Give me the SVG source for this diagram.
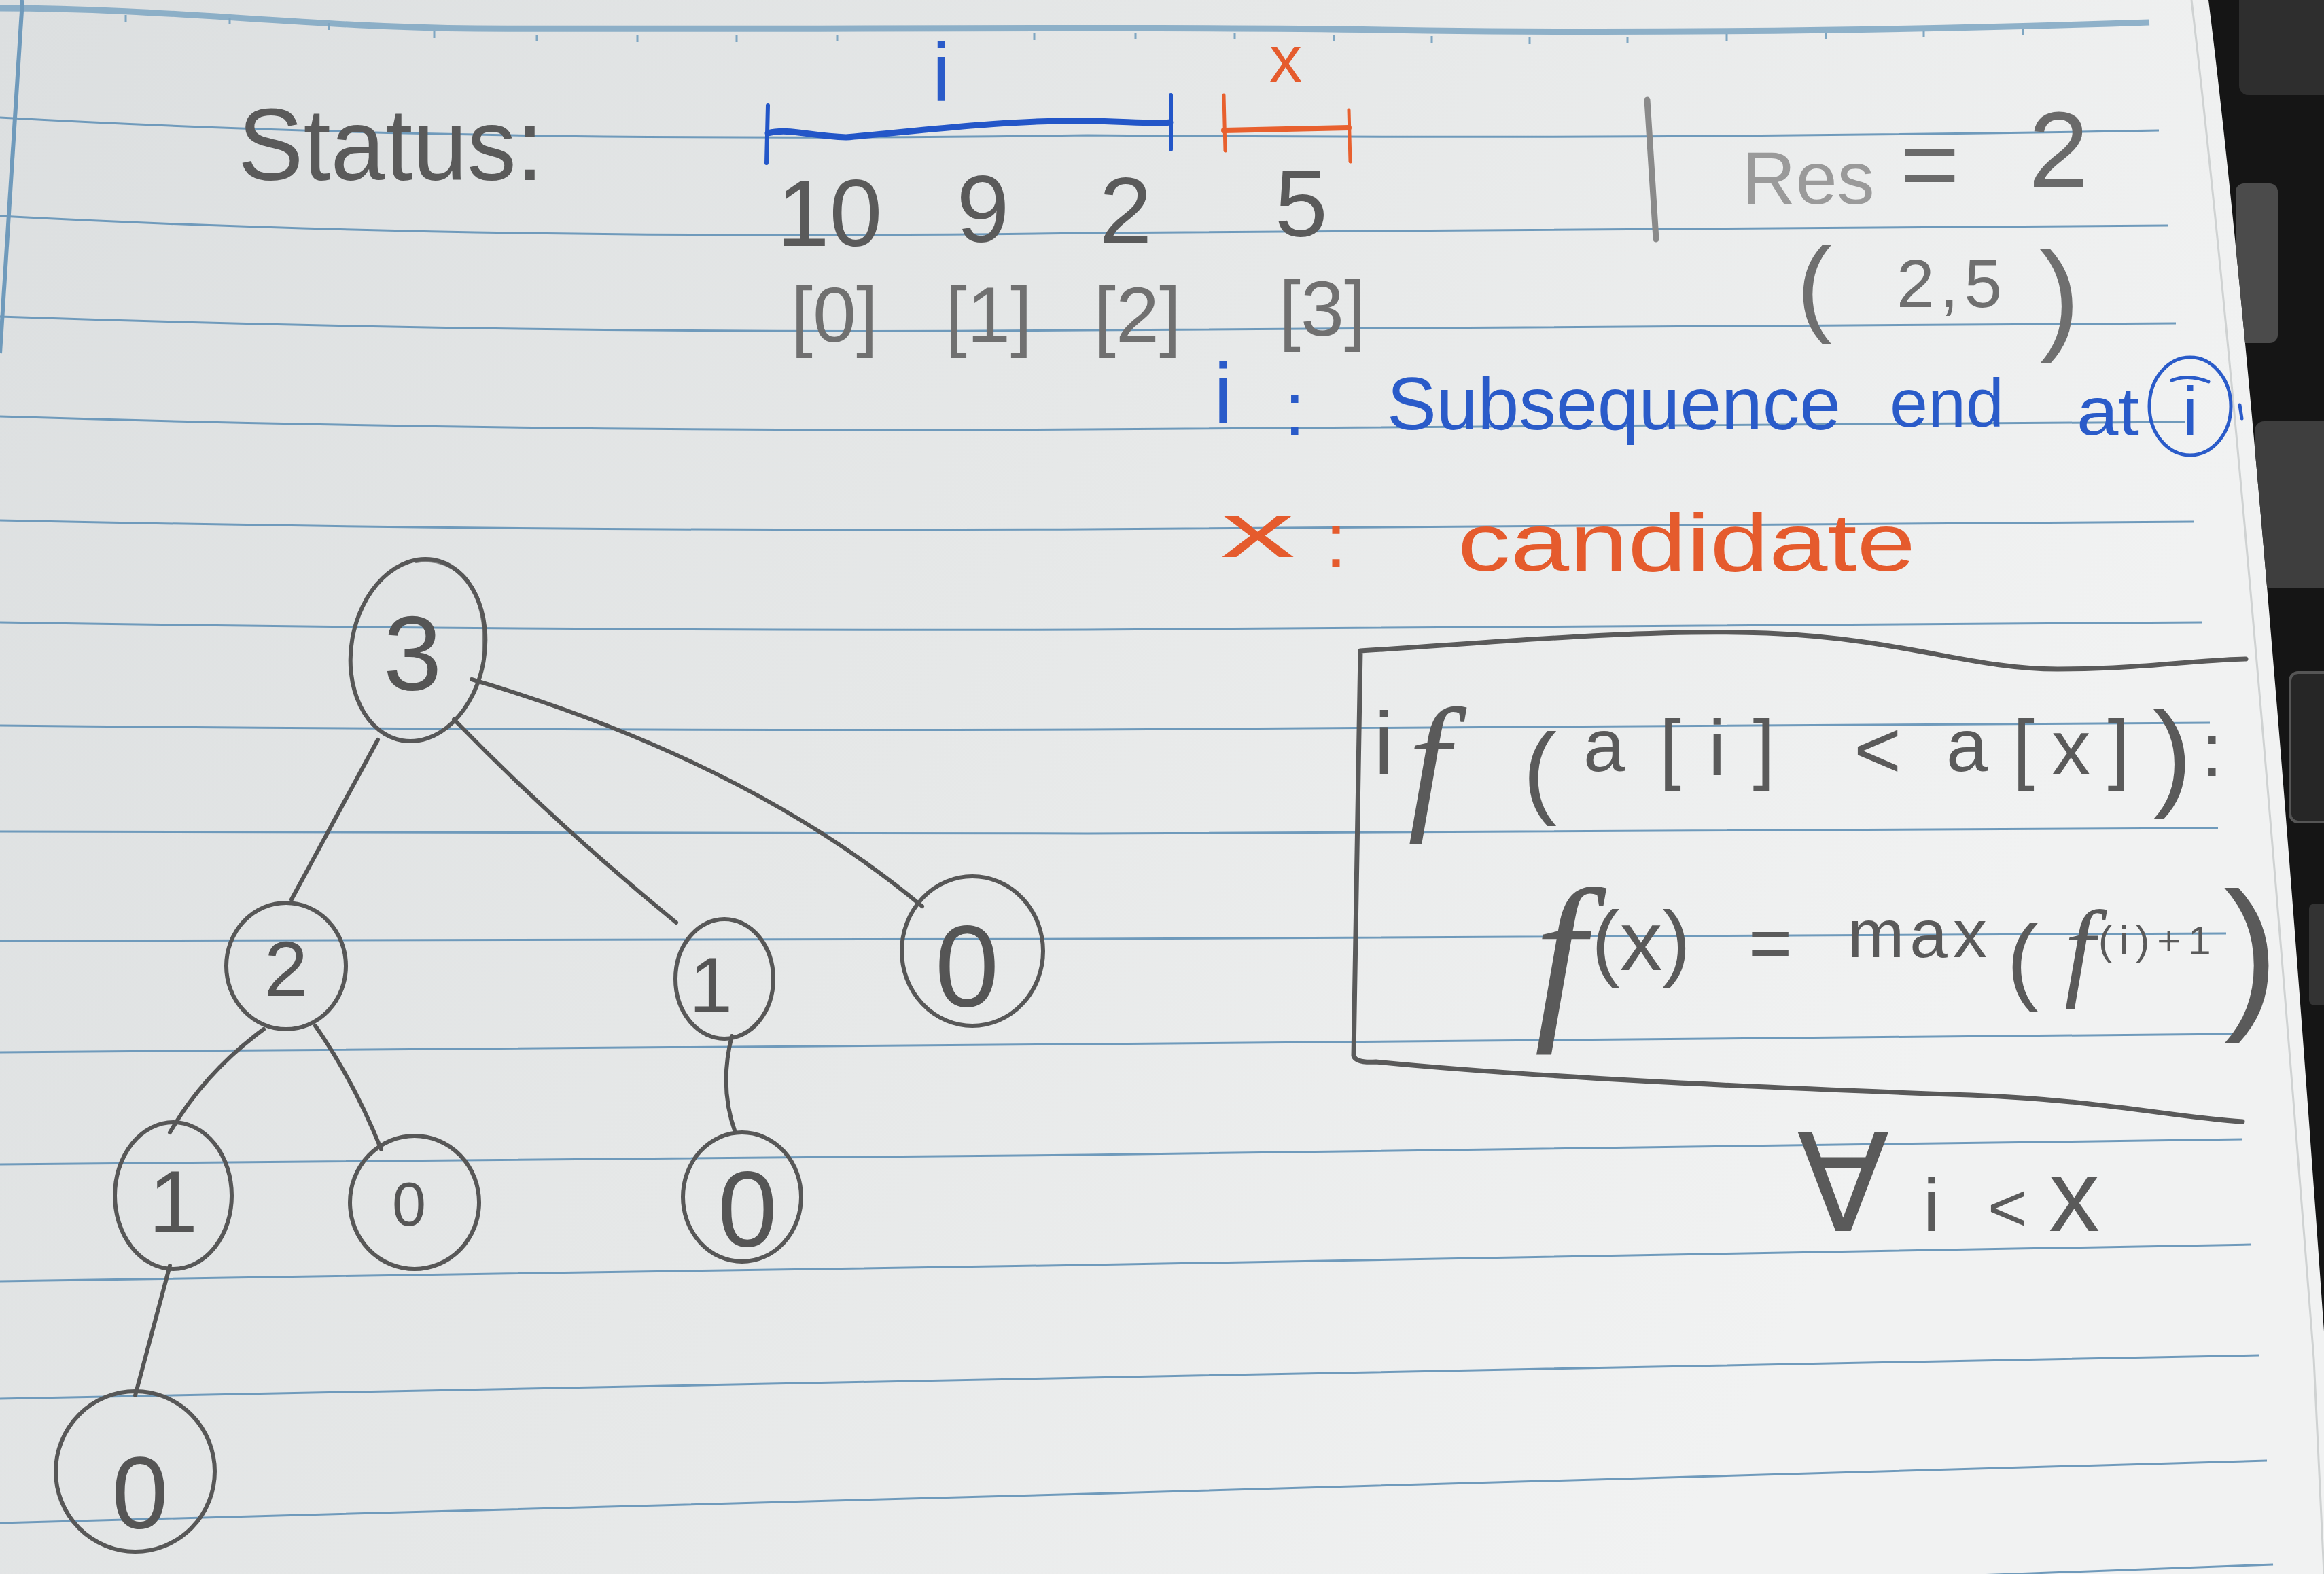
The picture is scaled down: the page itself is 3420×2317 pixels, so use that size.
<svg xmlns="http://www.w3.org/2000/svg" width="3420" height="2317" viewBox="0 0 3420 2317">
<defs>
<linearGradient id="paper" x1="0" y1="0" x2="1" y2="0.35">
<stop offset="0" stop-color="#dcdfe0"/>
<stop offset="0.5" stop-color="#e6e8e8"/>
<stop offset="0.95" stop-color="#f1f2f2"/>
</linearGradient>
<clipPath id="darkclip"><path d="M3250,0 C3300,400 3360,1100 3420,1960 L3420,0 Z"/></clipPath>
<style>
.rule{fill:none;stroke:#6f9abb;stroke-width:3}
.tick{fill:none;stroke:#7ea6c2;stroke-width:3}
.pen{fill:none;stroke:#575757;stroke-width:6;stroke-linecap:round;stroke-linejoin:round}
.edge{fill:none;stroke:#555;stroke-width:6;stroke-linecap:round}
.t{font-family:'Liberation Sans','DejaVu Sans',sans-serif}
.fi{font-family:'Liberation Serif','DejaVu Serif',serif;font-style:italic}
.pencil{fill:#5a5a5a}
.light{fill:#707070}
.blue{fill:#2a5bc9}
.orange{fill:#e55b2d}
.bink{fill:none;stroke:#2a5bc9;stroke-width:5;stroke-linecap:round}
.oink{fill:none;stroke:#e8602e;stroke-width:8;stroke-linecap:round}
.nl{font-family:'Liberation Sans','DejaVu Sans',sans-serif;fill:#555;text-anchor:middle}
</style>
</defs>

<!-- paper -->
<rect x="0" y="0" width="3420" height="2317" fill="url(#paper)"/>

<!-- ruled lines -->
<g id="ruling">
<path d="M0,12 C250,12 450,40 700,42 C1200,44 1700,38 2100,45 C2500,50 2900,42 3163,33" fill="none" stroke="#7ea6c2" stroke-width="9" stroke-opacity="0.85"/>
<path class="tick" d="M185,22 v10 M338,26 v10 M484,34 v10 M639,46 v10 M790,51 v9 M938,52 v10 M1084,52 v10 M1232,51 v10 M1522,49 v10 M1671,48 v10 M1817,48 v9 M1963,51 v10 M2107,53 v10 M2251,55 v10 M2395,54 v10 M2541,50 v10 M2687,48 v10 M2831,45 v10 M2977,42 v10"/>
<path d="M33,0 L0,520" fill="none" stroke="#6f9abb" stroke-width="6"/>
<path class="rule" d="M0,173 Q700,212 1600,199 Q2400,206 3177,192"/>
<path class="rule" d="M0,318 Q700,355 1600,343 Q2400,340 3190,332"/>
<path class="rule" d="M0,466 Q800,493 1600,486 Q2400,482 3202,476"/>
<path class="rule" d="M0,613 Q800,637 1600,632 Q2400,628 3215,621"/>
<path class="rule" d="M0,766 Q800,783 1600,779 Q2400,776 3228,768"/>
<path class="rule" d="M0,916 Q800,929 1600,927 Q2400,924 3240,916"/>
<path class="rule" d="M0,1068 Q800,1076 1600,1074 Q2400,1071 3252,1064"/>
<path class="rule" d="M0,1224 Q800,1227 1600,1227 Q2400,1225 3264,1219"/>
<path class="rule" d="M0,1385 Q800,1384 1600,1382 Q2400,1380 3276,1374"/>
<path class="rule" d="M0,1549 Q800,1544 1600,1537 Q2400,1531 3288,1522"/>
<path class="rule" d="M0,1714 Q800,1708 1600,1700 Q2400,1690 3300,1677"/>
<path class="rule" d="M0,1886 Q800,1875 1600,1862 Q2400,1848 3312,1832"/>
<path class="rule" d="M0,2059 Q800,2045 1600,2028 Q2400,2012 3324,1995"/>
<path class="rule" d="M0,2242 Q800,2222 1600,2199 Q2400,2176 3336,2150"/>
<path class="rule" d="M2200,2345 Q2800,2325 3345,2303"/>
</g>

<!-- page edge and dark background -->
<g id="background-right">
<path d="M3225,0 C3275,420 3335,1100 3405,2000 L3420,2317" fill="none" stroke="#cfd2d2" stroke-width="3"/>
<path d="M3250,0 C3300,400 3360,1100 3420,1960 L3420,0 Z" fill="#151515"/>
<g clip-path="url(#darkclip)">
<rect x="3295" y="-20" width="140" height="160" rx="14" fill="#2e2e2e"/>
<rect x="3290" y="270" width="62" height="235" rx="12" fill="#4b4b4b"/>
<rect x="3318" y="620" width="120" height="245" rx="14" fill="#3e3e3e"/>
<rect x="3370" y="990" width="80" height="220" rx="12" fill="#262626" stroke="#555" stroke-width="4"/>
<rect x="3398" y="1330" width="40" height="150" rx="8" fill="#333"/>
</g>
</g>

<!-- header: Status and array -->
<g id="status">
<text class="t pencil" x="350" y="265" font-size="150" textLength="450" lengthAdjust="spacingAndGlyphs">Status:</text>
</g>

<g id="i-range">
<text class="t blue" x="1385" y="147" font-size="120" text-anchor="middle">i</text>
<path d="M1130,196 C1160,188 1190,200 1245,202 C1330,195 1450,180 1560,178 C1640,176 1690,184 1722,180" fill="none" stroke="#2356c8" stroke-width="9" stroke-linecap="round"/>
<path d="M1130,155 L1128,240 M1723,140 L1723,220" fill="none" stroke="#2356c8" stroke-width="6" stroke-linecap="round"/>
</g>

<g id="x-range">
<text class="t orange" x="1892" y="120" font-size="96" text-anchor="middle">x</text>
<path class="oink" d="M1801,192 L1985,188"/>
<path d="M1801,140 L1803,222 M1985,162 L1987,238" fill="none" stroke="#e8602e" stroke-width="5" stroke-linecap="round"/>
</g>

<g id="array-values">
<text class="t pencil" font-size="140" text-anchor="middle" y="362"><tspan x="1240">10</tspan> <tspan x="1466" y="356">9</tspan> <tspan x="1676" y="358">2</tspan> <tspan x="1915" y="348">5</tspan></text>
</g>
<g id="array-indices">
<text class="t light" font-size="115" text-anchor="middle" y="503"><tspan x="1244">[0]</tspan> <tspan x="1471">[1]</tspan> <tspan x="1690">[2]</tspan> <tspan x="1946" y="494">[3]</tspan></text>
</g>

<!-- Res -->
<g id="res">
<path d="M2424,147 L2437,352" fill="none" stroke="#8a8a8a" stroke-width="9" stroke-linecap="round"/>
<text class="t" y="300" fill="#6a6a6a"><tspan x="2563" font-size="110" fill="#9a9a9a">Res</tspan> <tspan x="2796" y="293" font-size="150">=</tspan> <tspan x="2985" y="276" font-size="160">2</tspan></text>
<text class="t" fill="#6f6f6f"><tspan x="2644" y="474" font-size="155">(</tspan><tspan x="2791" y="452" font-size="100" letter-spacing="8">2,5</tspan><tspan x="3001" y="498" font-size="180">)</tspan></text>
</g>

<!-- legend -->
<g id="legend-i">
<text class="t blue" x="1786" y="622" font-size="125">i</text>
<text class="t blue" x="1890" y="640" font-size="110">:</text>
<text class="t blue" x="2041" y="632" font-size="110" textLength="668" lengthAdjust="spacingAndGlyphs">Subsequence</text>
<text class="t blue" x="2781" y="628" font-size="100" textLength="168" lengthAdjust="spacingAndGlyphs">end</text>
<text class="t blue" x="3056" y="640" font-size="100" textLength="92" lengthAdjust="spacingAndGlyphs">at</text>
<ellipse cx="3223" cy="598" rx="60" ry="72" class="bink"/>
<text class="t blue" x="3223" y="640" font-size="100" text-anchor="middle">i</text>
<path class="bink" d="M3196,560 Q3220,550 3250,562 M3296,596 L3299,616"/>
</g>

<g id="legend-x">
<text class="t orange" x="1796" y="820" font-size="115" textLength="110" lengthAdjust="spacingAndGlyphs">x</text>
<text class="t orange" x="1950" y="835" font-size="115">:</text>
<text class="t orange" x="2145" y="840" font-size="120" textLength="674" lengthAdjust="spacingAndGlyphs">candidate</text>
</g>

<!-- recurrence box -->
<g id="recurrence">
<path d="M3305,970 C3250,970 3150,985 3028,985 C2900,985 2800,940 2600,932 C2400,925 2150,950 2002,958 L1992,1554 Q1995,1565 2025,1563 C2300,1590 2700,1605 2900,1612 C3100,1620 3200,1645 3300,1651" fill="none" stroke="#5a5a5a" stroke-width="7" stroke-linecap="round" stroke-linejoin="round"/>
<text class="t pencil" y="1139"><tspan x="2022" font-size="130">i</tspan><tspan class="fi" x="2072" y="1195" font-size="220">f</tspan> <tspan x="2241" y="1185" font-size="150">(</tspan><tspan x="2330" y="1135" font-size="110">a</tspan><tspan x="2442" y="1140" font-size="115" letter-spacing="40">[i]</tspan> <tspan x="2728" y="1145" font-size="120">&lt;</tspan> <tspan x="2864" y="1135" font-size="110">a</tspan><tspan x="2962" y="1140" font-size="115" letter-spacing="25">[x]</tspan><tspan x="3168" y="1170" font-size="175">)</tspan><tspan x="3240" y="1142" font-size="110">:</tspan></text>
<text class="t pencil" y="1409"><tspan class="fi" x="2258" y="1495" font-size="270">f</tspan><tspan x="2342" y="1428" font-size="125">(x)</tspan> <tspan x="2573" y="1425" font-size="110">=</tspan> <tspan x="2719" y="1409" font-size="100" letter-spacing="8">max</tspan><tspan x="2953" y="1460" font-size="140">(</tspan> <tspan class="fi" x="3038" y="1452" font-size="160">f</tspan><tspan x="3088" y="1405" font-size="60" letter-spacing="11">(i)+1</tspan> <tspan x="3272" y="1485" font-size="245">)</tspan></text>
<text class="t pencil" y="1812"><tspan x="2644" font-size="200">∀</tspan> <tspan x="2830" font-size="110">i</tspan> <tspan x="2925" font-size="100">&lt;</tspan> <tspan x="3015" font-size="150">x</tspan></text>
</g>

<!-- tree connectors -->
<g id="connectors">
<path class="edge" d="M556,1089 L429,1324" stroke-width="8"/>
<path class="edge" d="M668,1059 Q820,1215 995,1358"/>
<path class="edge" d="M694,1000 Q1100,1120 1357,1334"/>
<path class="edge" d="M388,1515 Q300,1580 250,1667"/>
<path class="edge" d="M464,1510 Q520,1590 561,1692"/>
<path class="edge" d="M1077,1525 Q1058,1600 1082,1667"/>
<path class="edge" d="M250,1863 L199,2054"/>
</g>

<!-- tree nodes -->
<g id="node-root-3">
<ellipse class="pen" cx="615" cy="957" rx="98" ry="135" transform="rotate(10 615 957)"/>
<path class="pen" d="M612,826 C680,815 720,880 712,960" stroke-width="4" stroke-opacity="0.7"/>
<text class="nl" x="607" y="1015" font-size="155">3</text>
</g>
<g id="node-2">
<ellipse class="pen" cx="421" cy="1422" rx="88" ry="93"/>
<text class="nl" x="421" y="1466" font-size="115">2</text>
</g>
<g id="node-1-mid">
<ellipse class="pen" cx="1066" cy="1441" rx="72" ry="88"/>
<text class="nl" x="1046" y="1490" font-size="115">1</text>
</g>
<g id="node-0-right">
<ellipse class="pen" cx="1431" cy="1400" rx="104" ry="110"/>
<text class="nl" x="1423" y="1481" font-size="170">0</text>
</g>
<g id="node-1-left">
<ellipse class="pen" cx="255" cy="1760" rx="86" ry="108"/>
<text class="nl" x="255" y="1814" font-size="130">1</text>
</g>
<g id="node-0-under-2">
<ellipse class="pen" cx="610" cy="1770" rx="95" ry="98"/>
<text class="nl" x="602" y="1804" font-size="90">0</text>
</g>
<g id="node-0-under-1">
<ellipse class="pen" cx="1092" cy="1762" rx="87" ry="95"/>
<text class="nl" x="1100" y="1834" font-size="158">0</text>
</g>
<g id="node-0-bottom">
<ellipse class="pen" cx="199" cy="2166" rx="117" ry="118"/>
<text class="nl" x="206" y="2250" font-size="150">0</text>
</g>
</svg>
